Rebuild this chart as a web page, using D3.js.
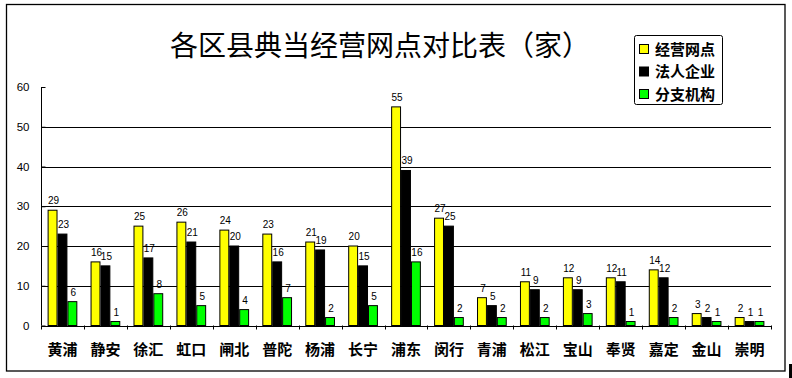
<!DOCTYPE html>
<html><head><meta charset="utf-8">
<script src="https://cdn.jsdelivr.net/npm/d3@7"></script>
<style>body{margin:0;background:#fff}svg{display:block}</style>
</head><body>
<svg id="c" width="792" height="378"></svg>
<script>
const categories = ["黄浦","静安","徐汇","虹口","闸北","普陀","杨浦","长宁","浦东","闵行","青浦","松江","宝山","奉贤","嘉定","金山","崇明"];
const seriesNames = ["经营网点","法人企业","分支机构"];
const outlets = [29,16,25,26,24,23,21,20,55,27,7,11,12,12,14,3,2];
const enterprises = [23,15,17,21,20,16,19,15,39,25,5,9,9,11,12,2,1];
const branches = [6,1,8,5,4,7,2,5,16,2,2,2,3,1,2,1,1];
const yTicks = [0,10,20,30,40,50,60];
const colors = ["#FFFF00","#000000","#00FF00"];
const title = "各区县典当经营网点对比表（家）";

(function(){
const seriesValues = [outlets, enterprises, branches];
const svg = d3.select("#c");
const pLeft = 41, pRight = 771, pTop = 87, pBottom = 325.5;

// outer border
svg.append("rect").attr("x",6.5).attr("y",4.5).attr("width",778.5).attr("height",366.5)
  .attr("fill","#fff").attr("stroke","#000").attr("stroke-width",1.3);
svg.append("rect").attr("x",789).attr("y",364).attr("width",3).attr("height",14).attr("fill","#000");

const x = d3.scaleBand().domain(categories).range([pLeft,pRight]).padding(0);
const x1 = d3.scaleBand().domain(seriesNames).range([0,x.bandwidth()]).paddingInner(0).paddingOuter(0.667);
const y = d3.scaleLinear().domain([0,60]).range([pBottom,pTop]);

// gridlines
svg.append("g").selectAll("line").data(yTicks.filter(t=>t>0 && t<60)).join("line")
  .attr("x1",pLeft).attr("x2",pRight).attr("y1",d=>Math.round(y(d))+0.5).attr("y2",d=>Math.round(y(d))+0.5)
  .attr("stroke","#000").attr("stroke-width",1);

// y axis
const ya = svg.append("g").attr("transform",`translate(${pLeft+0.5},0)`)
  .call(d3.axisLeft(y).tickValues(yTicks).tickSize(-4).tickPadding(12).tickFormat(d3.format("d")));
ya.select(".domain").remove();
ya.selectAll(".tick line").attr("stroke","#000");
ya.selectAll("text").attr("font-family","Liberation Sans, Arial, sans-serif").attr("font-size",11.5).attr("fill","#000");
svg.append("line").attr("x1",pLeft+0.5).attr("x2",pLeft+0.5).attr("y1",y(60)).attr("y2",pBottom).attr("stroke","#000");

// bars
const data = [];
categories.forEach((c,i)=>seriesNames.forEach((s,j)=>data.push({c,s,j,v:seriesValues[j][i]})));
svg.append("g").selectAll("rect").data(data).join("rect")
  .attr("x",d=>x(d.c)+x1(d.s)+0.5)
  .attr("y",d=>y(d.v))
  .attr("width",x1.bandwidth()-1)
  .attr("height",d=>pBottom-y(d.v))
  .attr("fill",d=>colors[d.j]).attr("stroke","#000").attr("stroke-width",1);

// value labels
svg.append("g").selectAll("text").data(data).join("text")
  .attr("x",d=>x(d.c)+x1(d.s)+x1.bandwidth()/2+1)
  .attr("y",d=>y(d.v)-6)
  .attr("text-anchor","middle")
  .attr("font-family","Liberation Sans, Arial, sans-serif").attr("font-size",10).attr("fill","#000")
  .text(d=>d.v);

// x axis line and ticks
svg.append("line").attr("x1",pLeft).attr("x2",pRight).attr("y1",Math.round(pBottom)+0.5).attr("y2",Math.round(pBottom)+0.5).attr("stroke","#000");
const bounds = categories.map(c=>x(c)).concat([pRight]);
svg.append("g").selectAll("line").data(bounds).join("line")
  .attr("x1",d=>Math.round(d)+0.5).attr("x2",d=>Math.round(d)+0.5)
  .attr("y1",pBottom).attr("y2",pBottom+4).attr("stroke","#000");

// category labels
svg.append("g").selectAll("text").data(categories).join("text")
  .attr("x",d=>x(d)+x.bandwidth()/2).attr("y",355)
  .attr("text-anchor","middle")
  .attr("font-family","Noto Sans CJK SC").attr("font-weight","bold").attr("font-size",15).attr("fill","#000")
  .text(d=>d);

// title
svg.append("text").attr("x",380).attr("y",56).attr("text-anchor","middle")
  .attr("font-family","Noto Sans CJK SC").attr("font-size",28).attr("fill","#000").text(title);

// legend
const lg = svg.append("g");
lg.append("rect").attr("x",634.5).attr("y",35.5).attr("width",88).attr("height",69).attr("rx",2)
  .attr("fill","#fff").attr("stroke","#000");
seriesNames.forEach((s,j)=>{
  const cy = 49 + j*22.5;
  lg.append("rect").attr("x",639.5).attr("y",cy-4.5).attr("width",9).attr("height",9)
    .attr("fill",colors[j]).attr("stroke","#000");
  lg.append("text").attr("x",655).attr("y",cy+5.5)
    .attr("font-family","Noto Sans CJK SC").attr("font-weight","bold").attr("font-size",15).attr("fill","#000").text(s);
});
})();
</script>
</body></html>
